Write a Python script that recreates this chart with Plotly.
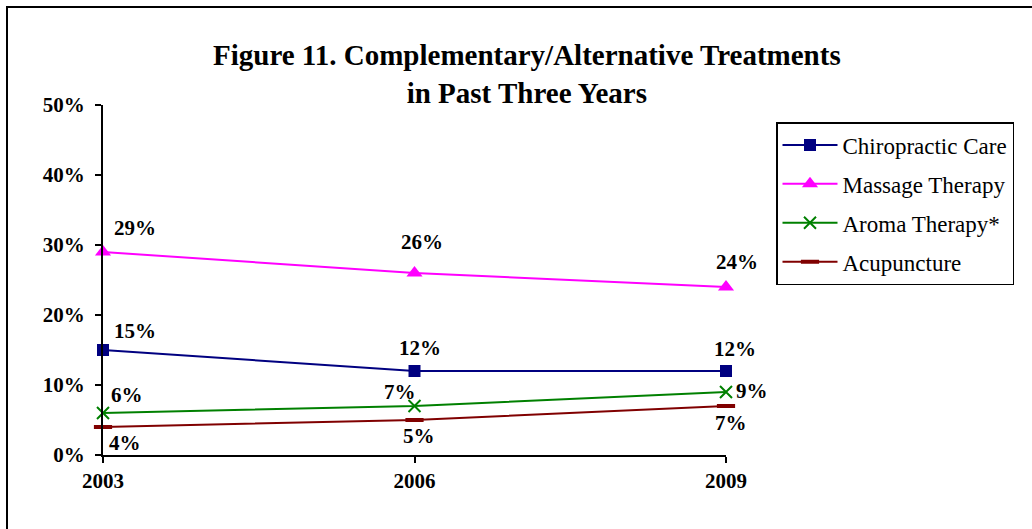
import plotly.graph_objects as go

years = [2003, 2006, 2009]
series_names = ["Chiropractic Care", "Massage Therapy", "Aroma Therapy*", "Acupuncture"]
chiropractic = [15, 12, 12]
massage = [29, 26, 24]
aroma = [6, 7, 9]
acupuncture = [4, 5, 7]
y_ticks = [0, 10, 20, 30, 40, 50]
y_ticklabels = ["0%", "10%", "20%", "30%", "40%", "50%"]

series_values = [chiropractic, massage, aroma, acupuncture]
colors = ["#000080", "#FF00FF", "#008000", "#800000"]
symbols = ["square", "triangle-up", "x-thin", "line-ew"]
msizes = [12, 14, 12, 13]
# label offsets (px) per series / point
label_offsets = [
    [(32, 19), (5, 23), (9, 22)],
    [(32, 24), (7, 31), (11, 25)],
    [(24, 18), (-15, 14), (26, 1)],
    [(22, -16), (4, -16), (5, -17)],
]

FONT = "Liberation Serif"
fig = go.Figure()
for i, (name, vals) in enumerate(zip(series_names, series_values)):
    mk = dict(symbol=symbols[i], size=msizes[i], color=colors[i])
    if symbols[i] == "x-thin":
        mk["line"] = dict(color=colors[i], width=2)
    elif symbols[i] == "line-ew":
        mk["line"] = dict(color=colors[i], width=4)
    else:
        mk["line"] = dict(color=colors[i], width=0)
    fig.add_trace(go.Scatter(
        x=years, y=vals, name=name, mode="lines+markers",
        line=dict(color=colors[i], width=2), marker=mk,
        cliponaxis=False, legendgroup=name,
    ))
    for j, v in enumerate(vals):
        dx, dy = label_offsets[i][j]
        fig.add_annotation(x=years[j], y=v, text=f"{v}%", showarrow=False,
                           xshift=dx, yshift=dy,
                           font=dict(family=FONT, size=21, color="black", weight="bold"))

fig.add_annotation(xref="paper", yref="paper", x=(527 - 103) / 623, y=(455 - 74) / 350,
                   text="<b>Figure 11. Complementary/Alternative Treatments<br>in Past Three Years</b>",
                   showarrow=False, font=dict(family=FONT, size=29, color="black"),
                   xanchor="center", yanchor="middle")

# outer frame
fig.add_shape(type="rect", xref="paper", yref="paper",
              x0=(7 - 103) / 623, x1=(1045 - 103) / 623,
              y0=(455 - 545) / 350, y1=(455 - 7) / 350,
              line=dict(color="black", width=2), layer="below")

fig.update_layout(
    width=1032, height=529,
    margin=dict(l=103, r=306, t=105, b=74),
    paper_bgcolor="white", plot_bgcolor="white",
    showlegend=True,
    legend=dict(xref="container", yref="container", x=776 / 1032, y=1 - 122 / 529,
                xanchor="left", yanchor="top",
                font=dict(family=FONT, size=23, color="black"),
                bordercolor="black", borderwidth=1.5, bgcolor="white",
                tracegroupgap=6, itemwidth=55),
    xaxis=dict(range=[2003, 2009], tickvals=years, ticktext=[str(y) for y in years],
               showgrid=False, zeroline=False, showline=True, linecolor="black", linewidth=2,
               ticks="outside", ticklen=6, tickwidth=2, tickcolor="black",
               tickfont=dict(family=FONT, size=21, color="black", weight="bold")),
    yaxis=dict(range=[0, 50], tickvals=y_ticks, ticktext=y_ticklabels,
               showgrid=False, zeroline=False, showline=True, linecolor="black", linewidth=2,
               ticks="outside", ticklen=6, tickwidth=2, tickcolor="black",
               ticklabelstandoff=6,
               tickfont=dict(family=FONT, size=21, color="black", weight="bold")),
)
fig.write_html("out.html", config={"displayModeBar": False},
               post_script="document.body.style.margin='0';")
